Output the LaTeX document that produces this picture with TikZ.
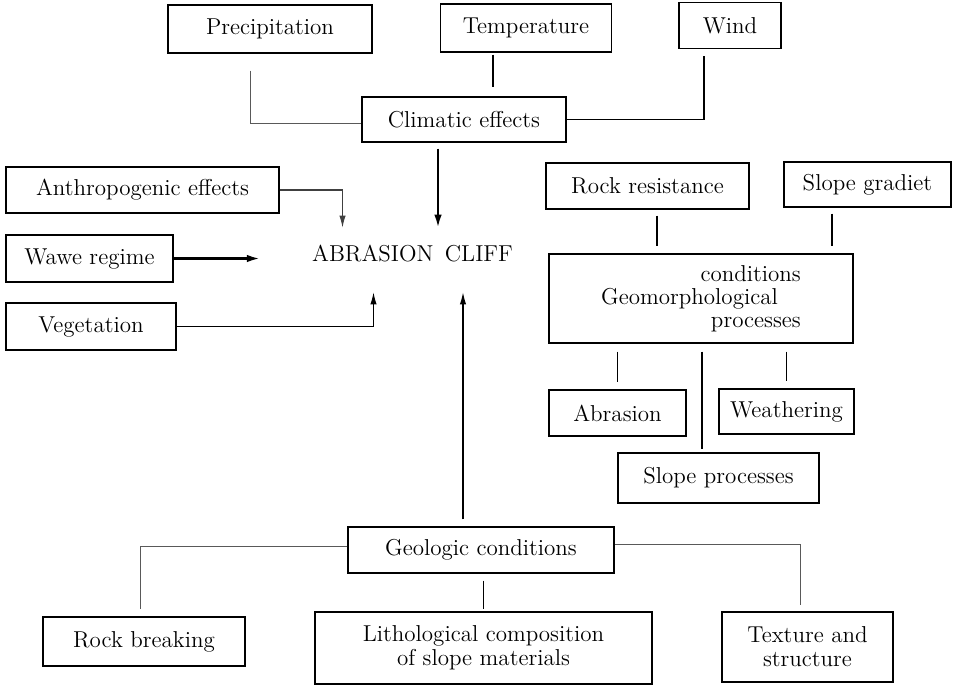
\documentclass[tikz,border=0pt]{standalone}
\usetikzlibrary{arrows.meta}
\begin{document}
\begin{tikzpicture}[x=0.5pt,y=-0.5pt,
    box/.style={draw, line width=0.6pt, inner sep=0pt, align=center, font=\fontsize{11.5}{12}\selectfont},
    link/.style={line width=0.55pt},
    faint/.style={line width=0.45pt, black!65},
    heavy/.style={line width=1.1pt, -{Latex[length=6.5pt,width=3.8pt]}},
    thinarrow/.style={line width=0.55pt, -{Latex[length=6pt,width=3.2pt]}}]
    %set diagram to 954 x 687, origin top left
    \useasboundingbox (0,0) rectangle (954,687);

    % Text Node: climatic row
    \node[box, minimum width=102pt, minimum height=24pt] (prec) at (270,29) {Precipitation};
    \node[box, minimum width=85.5pt, minimum height=24pt] (temp) at (526,28) {Temperature};
    \node[box, minimum width=51pt, minimum height=23pt] (wind) at (730,25.5) {Wind};
    \node[box, minimum width=102pt, minimum height=22.5pt] (clim) at (464,119.5) {Climatic effects};
    % Text Node: left column
    \node[box, minimum width=136.5pt, minimum height=23pt] (anth) at (142.5,190) {Anthropogenic effects};
    \node[box, minimum width=83.5pt, minimum height=23.5pt] (wawe) at (89.5,258.5) {Wawe regime};
    \node[box, minimum width=85pt, minimum height=23.5pt] (veg) at (91,326.5) {Vegetation};
    % Text Node: centre
    \node[font=\fontsize{11.5}{12}\selectfont, inner xsep=26pt, inner ysep=9pt, text height=7.5pt, text depth=6.5pt] (cliff) at (412.5,260) {ABRASION\hspace{0.5em}CLIFF};
    % Text Node: right column
    \node[box, minimum width=101.5pt, minimum height=23pt] (rockres) at (647.5,186) {Rock resistance};
    \node[box, minimum width=83.5pt, minimum height=22.5pt] (slopegr) at (867.5,184.5) {Slope gradiet};
    \node[box, minimum width=152pt, minimum height=44.5pt, align=right, font=\fontsize{11.5}{11.5}\selectfont] (geomorph) at (701,298.5) {conditions\\Geomorphological\rule{11.5pt}{0pt}\\processes};
    \node[box, minimum width=68.5pt, minimum height=23pt] (abras) at (617.5,413) {Abrasion};
    \node[box, minimum width=67.5pt, minimum height=22.5pt] (weath) at (786.5,411.5) {Weathering};
    \node[box, minimum width=100.5pt, minimum height=25pt] (slopepr) at (718.5,478) {Slope processes};
    % Text Node: geologic row
    \node[box, minimum width=133pt, minimum height=23pt] (geol) at (481,550) {Geologic conditions};
    \node[box, minimum width=101pt, minimum height=24.5pt] (rockbr) at (144,641.5) {Rock breaking};
    \node[box, minimum width=168.5pt, minimum height=36pt] (litho) at (483.5,648) {Lithological composition\\of slope materials};
    \node[box, minimum width=85.5pt, minimum height=35pt] (texture) at (807.5,647) {Texture and\\structure};

    %Straight Lines: climatic effects
    \draw[faint] ([xshift=-10pt,yshift=-8.5pt]prec.south) |- ([yshift=-2pt]clim.west);
    \draw[link] ([xshift=-16.5pt,yshift=-1pt]temp.south) -- ([xshift=-16.5pt,yshift=4.5pt]temp.south |- clim.north);
    \draw[link] ([xshift=-13pt,yshift=-3.5pt]wind.south) |- (clim.east);
    %Arrows into the cliff
    \draw[heavy] ([xshift=-13pt,yshift=-3pt]clim.south) coordinate (c1) -- (c1 |- cliff.north);
    \draw[faint, thinarrow, black!75] (anth.east) -| ([xshift=-35pt]cliff.north);
    \draw[heavy] (wawe.east) -- (wawe.east -| cliff.west);
    \draw[thinarrow] (veg.east) -| ([xshift=-19.5pt]cliff.south);
    \draw[thinarrow] ([xshift=-9pt,yshift=3.5pt]geol.north) coordinate (g1) -- (g1 |- cliff.south);
    %Straight Lines: geomorphological conditions
    \draw[link] ([xshift=4.75pt,yshift=-3pt]rockres.south) coordinate (r1) -- ([yshift=3.5pt]r1 |- geomorph.north);
    \draw[link] ([xshift=-17.75pt,yshift=-3pt]slopegr.south) coordinate (s1) -- ([yshift=3.5pt]s1 |- geomorph.north);
    \draw[link] ([yshift=-4pt]geomorph.south -| abras.north) -- ([yshift=3.5pt]abras.north);
    \draw[link] ([yshift=-4pt]geomorph.south -| weath.north) -- ([yshift=3.5pt]weath.north);
    \draw[link] ([xshift=-8.25pt,yshift=-4pt]geomorph.south -| slopepr.north) -- ([xshift=-8.25pt,yshift=1.5pt]slopepr.north);
    %Straight Lines: geologic conditions
    \draw[faint] ([yshift=2pt]geol.west) -| ([xshift=-2pt,yshift=3.5pt]rockbr.north);
    \draw[link] ([yshift=-3.5pt]geol.south -| litho.north) -- ([yshift=1pt]litho.north);
    \draw[faint] ([yshift=3pt]geol.east) -| ([xshift=-3.75pt,yshift=3pt]texture.north);
\end{tikzpicture}
\end{document}
